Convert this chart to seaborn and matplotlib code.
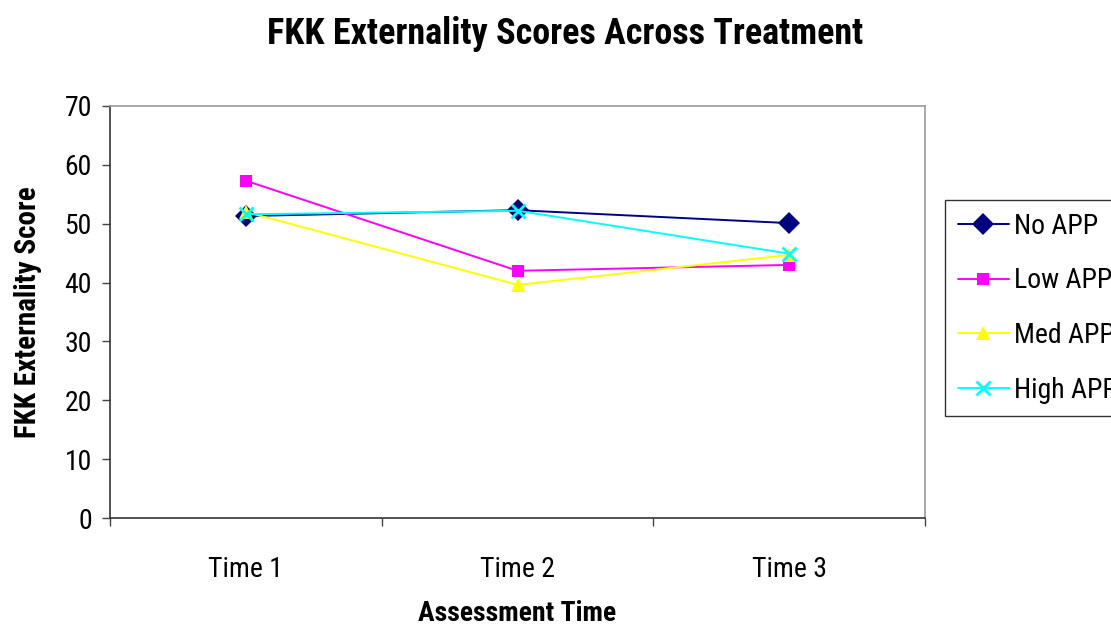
import matplotlib
matplotlib.use("Agg")
import matplotlib.pyplot as plt
import seaborn as sns
import pandas as pd
from matplotlib import font_manager
from matplotlib.ticker import FixedLocator, NullFormatter
from matplotlib.lines import Line2D

times = ["Time 1", "Time 2", "Time 3"]
no_app = [51.3, 52.3, 50.1]
low_app = [57.3, 42.0, 43.0]
med_app = [52.0, 39.6, 44.7]
high_app = [51.6, 52.2, 44.9]
series_names = ["No APP", "Low APP", "Med APP", "High APP"]

sns.set_theme(style="white")
names = {f.name for f in font_manager.fontManager.ttflist}
fam = "Liberation Sans"
for c in ["Roboto Condensed", "Liberation Sans Narrow", "Arial Narrow", "Archivo Narrow", "PT Sans Narrow"]:
    if c in names:
        fam = c
        break
plt.rcParams["font.family"] = [fam, "DejaVu Sans"]
plt.rcParams["text.color"] = "black"
plt.rcParams["axes.labelcolor"] = "black"
plt.rcParams["xtick.color"] = "black"
plt.rcParams["ytick.color"] = "black"

fig = plt.figure(figsize=(11.11, 6.26), dpi=100)
ax = fig.add_axes([0.099, 0.1725, 0.7336, 0.6582])

palette = {"No APP": "#000080", "Low APP": "#FF00FF", "Med APP": "#FFFF00", "High APP": "#00FFFF"}
markers = {"No APP": "D", "Low APP": "s", "Med APP": "^", "High APP": "x"}
msize = {"No APP": 11, "Low APP": 9, "Med APP": 10, "High APP": 10}
mew = {"No APP": 0, "Low APP": 0, "Med APP": 0, "High APP": 2}

for name, vals in zip(series_names, [no_app, low_app, med_app, high_app]):
    d = pd.DataFrame({"Time": times, "Score": vals})
    sns.lineplot(data=d, x="Time", y="Score", ax=ax, color=palette[name],
                 marker=markers[name], markersize=msize[name],
                 markeredgewidth=mew[name], markeredgecolor=palette[name],
                 linewidth=1.4, label=name, legend=False)

ax.set_xlim(-0.5, 2.5)
ax.set_ylim(0, 70)
ax.set_yticks(range(0, 71, 10))
ax.set_xticks([0, 1, 2])
ax.set_xticklabels(times)
ax.xaxis.set_minor_locator(FixedLocator([-0.5, 0.5, 1.5, 2.5]))
ax.xaxis.set_minor_formatter(NullFormatter())
ax.tick_params(axis="x", which="major", length=0, labelsize=20, pad=27.5)
ax.tick_params(axis="x", which="minor", length=6, width=1, color="#444444", direction="out", bottom=True)
ax.tick_params(axis="y", length=6, width=1, color="#444444", direction="out", left=True, labelsize=20, pad=7)

for s in ["left", "bottom"]:
    ax.spines[s].set_color("#333333")
    ax.spines[s].set_linewidth(1.2)
for s in ["top", "right"]:
    ax.spines[s].set_color("#999999")
    ax.spines[s].set_linewidth(1.2)

ax.set_xlabel("Assessment Time", fontsize=20, fontweight="bold", labelpad=12)
ax.set_ylabel("FKK Externality Score", fontsize=21, fontweight="bold", labelpad=16)
fig.text(0.509, 0.945, "FKK Externality Scores Across Treatment", ha="center", va="center",
         fontsize=26, fontweight="bold")

handles = []
for name in series_names:
    handles.append(Line2D([], [], color=palette[name], marker=markers[name], linewidth=1.4,
                          markersize=msize[name], markeredgewidth=mew[name],
                          markeredgecolor=palette[name]))
leg = fig.legend(handles, series_names, loc="upper left", bbox_to_anchor=(0.8506, 0.6805),
                 frameon=True, fontsize=20, handlelength=1.87, handletextpad=0.18,
                 labelspacing=1.0, borderpad=0.45, borderaxespad=0, fancybox=False)
leg.get_frame().set_edgecolor("black")
leg.get_frame().set_linewidth(1.0)

fig.savefig("out.png", dpi=100)
